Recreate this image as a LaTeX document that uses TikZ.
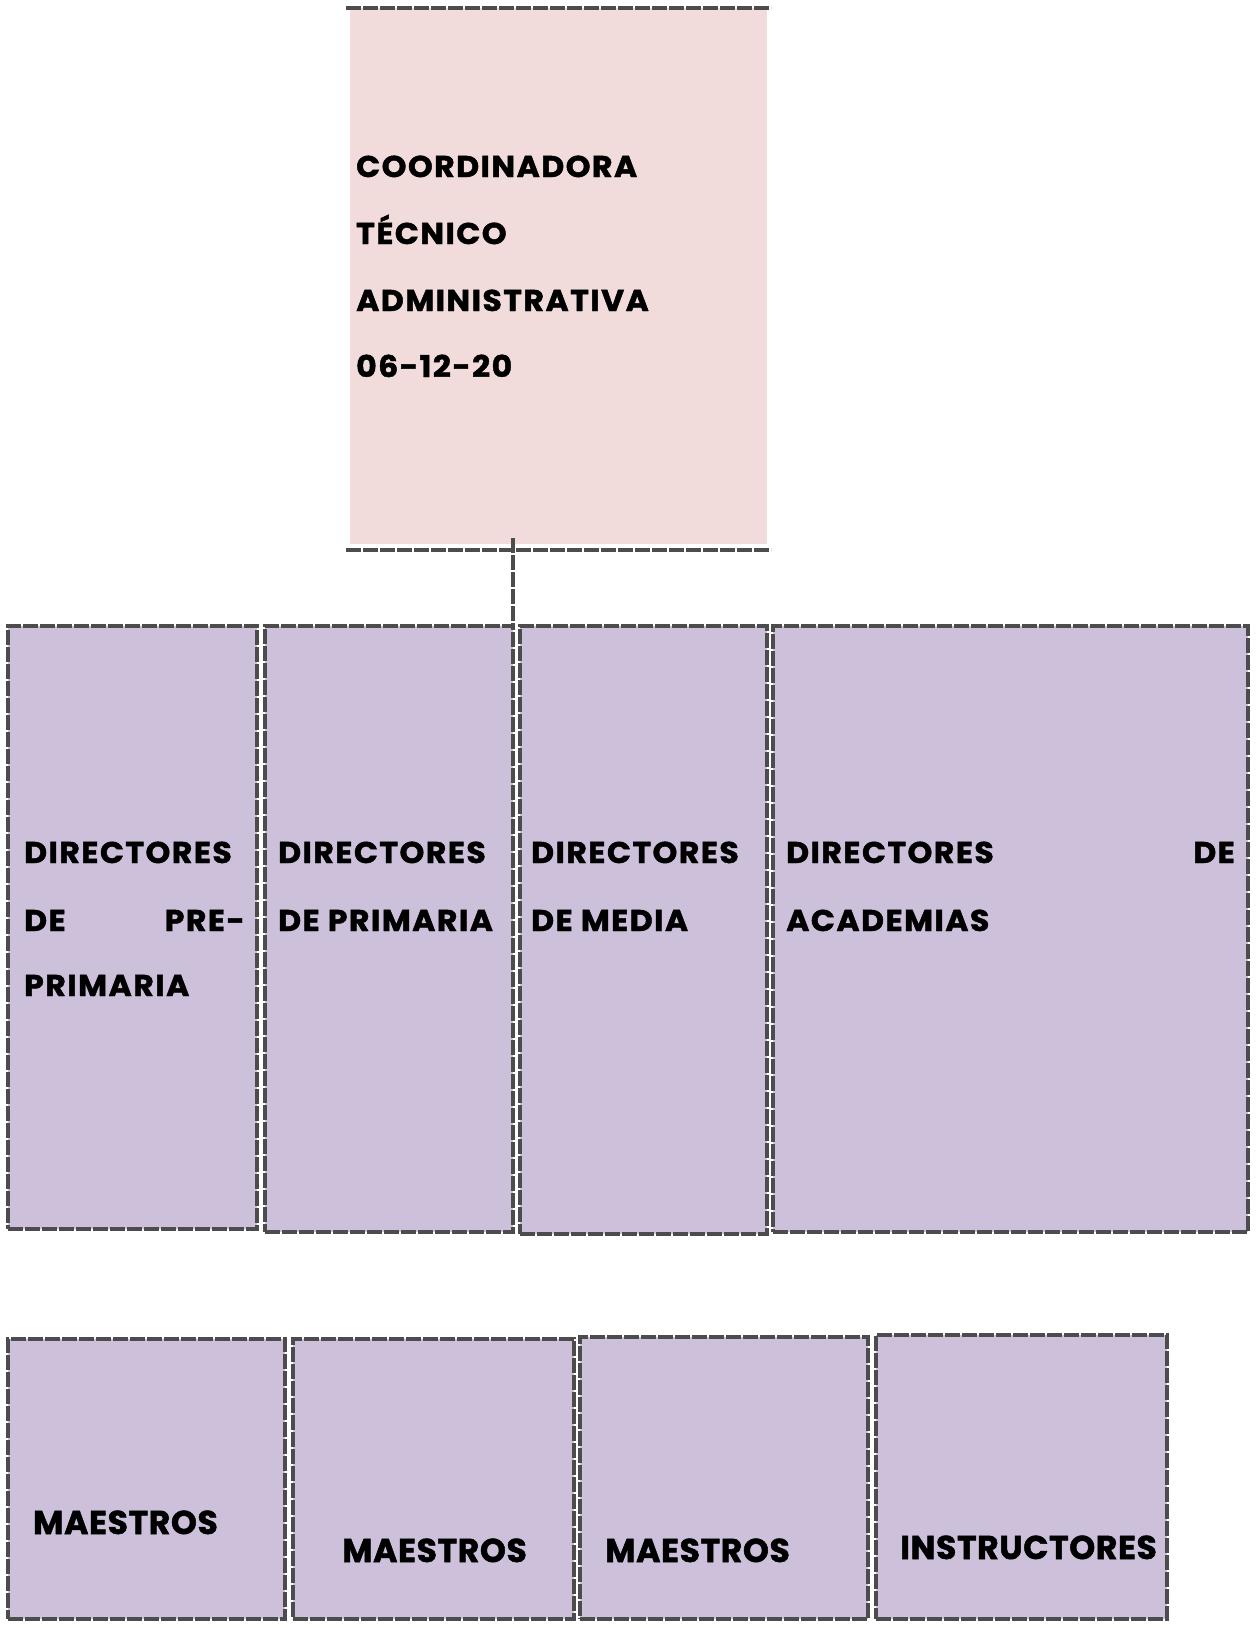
\documentclass[tikz,border=0pt]{standalone}
\usepackage{fontspec}
\newfontfamily\comicA[LetterSpace=5,FakeStretch=1.05,FakeBold=1.5]{Poppins}
\newfontfamily\comicB[LetterSpace=2,FakeBold=1.5]{Poppins}
\definecolor{pinkfill}{HTML}{F2DCDB}
\definecolor{lilac}{HTML}{CCC0DA}
\begin{document}
\begin{tikzpicture}[x=1pt,y=-1pt,
  hatch/.style={draw=gray!60!black, line width=3.5pt, dash pattern=on 15pt off 2pt},
  boxfill/.style={fill=lilac, draw=none, inner sep=0pt, outer sep=0pt, anchor=north west},
  lbl/.style={inner sep=0pt, anchor=base west, font=\comicA\bfseries\fontsize{30}{30}\selectfont},
  lblb/.style={inner sep=0pt, anchor=base west, font=\comicB\bfseries\fontsize{33}{33}\selectfont}]
\useasboundingbox (0,0) rectangle (1257,1628);
% top box
\node[boxfill, fill=pinkfill, minimum width=417pt, minimum height=536pt] (top) at (350,8) {};
\draw[hatch] ([xshift=-4pt]top.north west) -- ([xshift=4pt]top.north east);
\draw[hatch] ([shift={(-4,6)}]top.south west) -- ([shift={(4,6)}]top.south east);
\node[lbl] (t1) at (356,177) {COORDINADORA};
\node[lbl] (t2) at (356,244) {TÉCNICO};
\node[lbl] (t3) at (356,311) {ADMINISTRATIVA};
\node[lbl] (t4) at (356,377) {06-12-20};
% row 2
\node[boxfill, minimum width=249pt, minimum height=603pt, hatch] (d1) at (8,626) {};
\node[boxfill, minimum width=248pt, minimum height=606pt, hatch] (d2) at (265,626) {};
\node[boxfill, minimum width=247pt, minimum height=608pt, hatch] (d3) at (520,626) {};
\node[boxfill, minimum width=475pt, minimum height=606pt, hatch] (d4) at (773,626) {};
% connector
\coordinate (c1) at ([yshift=6pt]top.south -| d2.north east);
\draw[hatch] (c1) -- (d2.north east);
% row 2 text
\node[lbl] (a1) at (24,863) {DIRECTORES};
\node[lbl] (a2) at (24,931) {DE};
\node[lbl, anchor=base east] (a3) at (245,931) {PRE-};
\node[lbl] (a4) at (24,996) {PRIMARIA};
\node[lbl] (b1) at (278,863) {DIRECTORES};
\node[lbl] (b2) at (278,931) {DE PRIMARIA};
\node[lbl] (e1) at (531,863) {DIRECTORES};
\node[lbl] (e2) at (531,931) {DE MEDIA};
\node[lbl] (f1) at (786,863) {DIRECTORES};
\node[lbl, anchor=base east] (f2) at (1235,863) {DE};
\node[lbl] (f3) at (786,931) {ACADEMIAS};
% row 3
\node[boxfill, minimum width=277pt, minimum height=280pt, hatch] (m1) at (8,1339) {};
\node[boxfill, minimum width=281pt, minimum height=280pt, hatch] (m2) at (293,1339) {};
\node[boxfill, minimum width=288pt, minimum height=282pt, hatch] (m3) at (580,1337) {};
\node[boxfill, minimum width=291pt, minimum height=284pt, hatch] (m4) at (876,1335) {};
\node[lblb] (g1) at (33,1534) {MAESTROS};
\node[lblb] (g2) at (342,1562) {MAESTROS};
\node[lblb] (g3) at (605,1562) {MAESTROS};
\node[lblb] (g4) at (900,1559) {INSTRUCTORES};
\end{tikzpicture}
\end{document}
